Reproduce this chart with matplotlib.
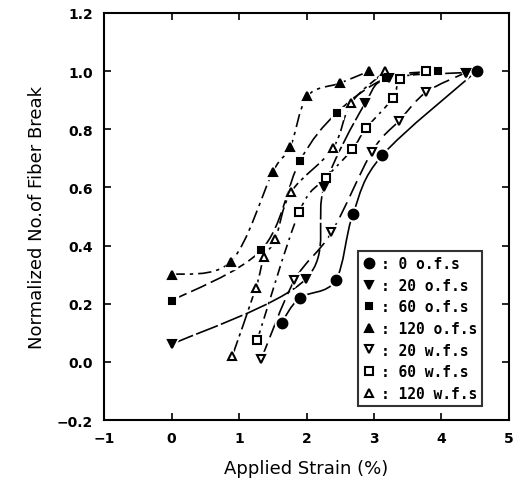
import numpy as np
import matplotlib
matplotlib.use("Agg")
import matplotlib.pyplot as plt
from matplotlib.path import Path
from matplotlib.patches import PathPatch
from matplotlib.lines import Line2D

# strain (%) and normalized number of fiber breaks
ofs0_x = [1.63, 1.90, 2.43, 2.69, 3.12, 4.52]
ofs0_y = [0.135, 0.22, 0.28, 0.51, 0.71, 1.0]

ofs20_x = [0.0, 1.99, 2.26, 2.87, 3.22, 4.36]
ofs20_y = [0.06, 0.285, 0.60, 0.89, 0.975, 0.995]

ofs60_x = [0.0, 1.33, 1.90, 2.45, 3.18, 3.95]
ofs60_y = [0.21, 0.385, 0.69, 0.857, 0.976, 1.0]

ofs120_x = [0.0, 0.88, 1.50, 1.76, 2.01, 2.50, 2.93]
ofs120_y = [0.30, 0.345, 0.653, 0.739, 0.913, 0.959, 1.0]

wfs20_x = [1.33, 1.82, 2.37, 2.97, 3.37, 3.77, 4.36]
wfs20_y = [0.01, 0.28, 0.445, 0.723, 0.829, 0.927, 0.995]

wfs60_x = [1.27, 1.89, 2.29, 2.68, 2.88, 3.28, 3.39, 3.77]
wfs60_y = [0.075, 0.515, 0.633, 0.731, 0.803, 0.907, 0.973, 1.0]

wfs120_x = [0.90, 1.25, 1.37, 1.54, 1.77, 2.39, 2.66, 3.17]
wfs120_y = [0.02, 0.255, 0.36, 0.423, 0.584, 0.734, 0.89, 1.0]

labels = [": 0 o.f.s", ": 20 o.f.s", ": 60 o.f.s", ": 120 o.f.s",
          ": 20 w.f.s", ": 60 w.f.s", ": 120 w.f.s"]

series = [
    (ofs0_x, ofs0_y, "o", "k", 7.0, "-"),
    (ofs20_x, ofs20_y, "v", "k", 6.0, (0, (14, 2))),
    (ofs60_x, ofs60_y, "s", "k", 5.0, (0, (10, 3))),
    (ofs120_x, ofs120_y, "^", "k", 6.0, (0, (8, 3, 2, 3))),
    (wfs20_x, wfs20_y, "v", "none", 6.0, (0, (10, 4))),
    (wfs60_x, wfs60_y, "s", "none", 5.8, (0, (6, 3, 1.5, 3))),
    (wfs120_x, wfs120_y, "^", "none", 6.0, (0, (10, 2.5, 2, 2.5))),
]


def smooth_path(xs, ys):
    # Catmull-Rom style curve handed to matplotlib as cubic bezier segments
    pts = np.column_stack([xs, ys])
    n = len(pts)
    verts = [pts[0]]
    codes = [Path.MOVETO]
    for i in range(n - 1):
        p0 = pts[i - 1] if i > 0 else pts[i]
        p1 = pts[i]
        p2 = pts[i + 1]
        p3 = pts[i + 2] if i + 2 < n else pts[i + 1]
        verts += [p1 + (p2 - p0) / 6, p2 - (p3 - p1) / 6, p2]
        codes += [Path.CURVE4] * 3
    return Path(verts, codes)


fig = plt.figure(figsize=(5.16, 4.89), dpi=100)
ax = fig.add_axes([0.2016, 0.139, 0.7848, 0.8324])

for xs, ys, mk, fc, ms, ls in series:
    ax.add_patch(PathPatch(smooth_path(xs, ys), fill=False, lw=1.2,
                           ls=ls, ec="k", zorder=2))
    ax.plot(xs, ys, ls="none", marker=mk, ms=ms + 3.5, mfc="white",
            mec="white", zorder=3)
for xs, ys, mk, fc, ms, ls in series:
    ax.plot(xs, ys, ls="none", marker=mk, ms=ms, mfc=fc, mec="k",
            mew=1.5, zorder=4)

ax.set_xlim(-1, 5)
ax.set_ylim(-0.2, 1.2)
ax.set_xticks(range(-1, 6))
ax.set_yticks(np.arange(-0.2, 1.21, 0.2))
ax.set_xticklabels(["\u22121", "0", "1", "2", "3", "4", "5"])
ax.set_yticklabels(["\u22120.2", "0.0", "0.2", "0.4", "0.6", "0.8", "1.0", "1.2"])
ax.tick_params(direction="in", length=5, width=1.2, top=True, right=True,
               labelsize=10, pad=8)
for lab in ax.get_xticklabels() + ax.get_yticklabels():
    lab.set_fontweight("bold")
for sp in ax.spines.values():
    sp.set_linewidth(1.5)

ax.set_xlabel("Applied Strain (%)", fontsize=13, labelpad=10)
ax.set_ylabel("Normalized No.of Fiber Break", fontsize=13, labelpad=8)

handles = [Line2D([], [], ls="none", marker=mk, ms=ms, mfc=fc, mec="k", mew=1.5)
           for xs, ys, mk, fc, ms, ls in series]
leg = ax.legend(handles, labels, loc="lower left", bbox_to_anchor=(0.627, 0.035),
                prop={"family": "DejaVu Sans Mono", "weight": "bold", "size": 10.5},
                frameon=True, fancybox=False, edgecolor="k", handlelength=0.8,
                handletextpad=0.4, labelspacing=0.45, borderpad=0.35,
                borderaxespad=0)
leg.get_frame().set_linewidth(1.5)
leg.set_zorder(5)

fig.savefig("out.png", dpi=100)
